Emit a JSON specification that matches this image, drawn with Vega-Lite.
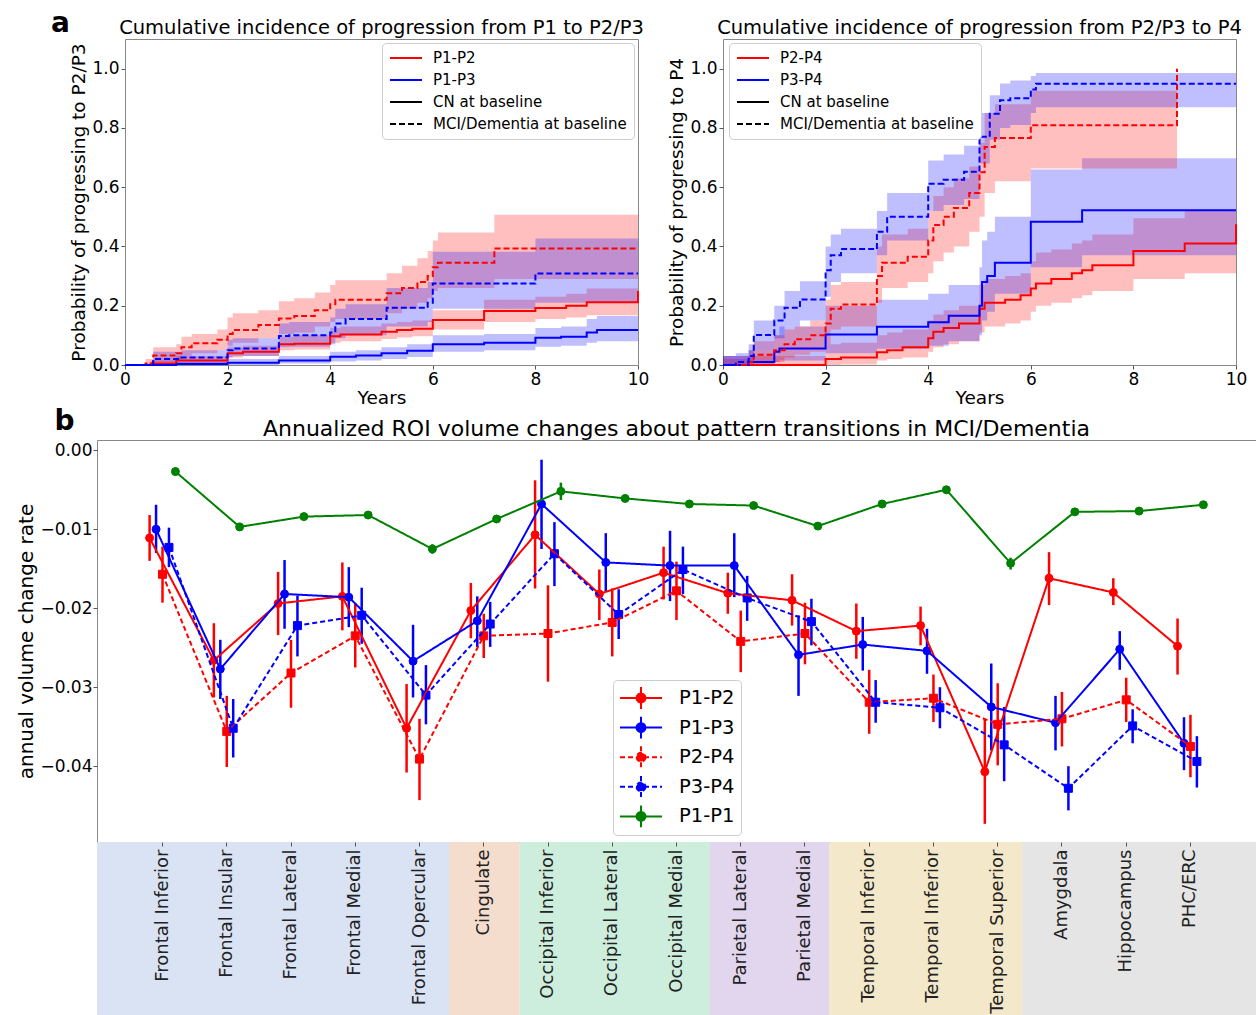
{
  "$schema": "https://vega.github.io/schema/vega-lite/v6.json",
  "padding": {"left": 16, "top": 10, "right": 0, "bottom": 0},
  "config": {
    "font": "DejaVu Sans",
    "view": {"stroke": "#888888"},
    "axis": {"grid": false, "domain": false, "domainColor": "#888888", "tickColor": "#555555", "tickSize": 4, "labelColor": "#000000", "titleColor": "#000000", "titleFontWeight": "normal", "labelFlush": false, "labelOverlap": false},
    "legend": {"labelColor": "#000000"},
    "title": {"fontWeight": "normal", "color": "#000000"}
  },
  "datasets": {
    "tl": [
      {"series": "P1-P2", "base": "CN at baseline", "t": 0, "p": 0, "lo": 0, "hi": 0},
      {"series": "P1-P2", "base": "CN at baseline", "t": 0.5, "p": 0.005, "lo": 0, "hi": 0.015},
      {"series": "P1-P2", "base": "CN at baseline", "t": 1.0, "p": 0.015, "lo": 0.005, "hi": 0.03},
      {"series": "P1-P2", "base": "CN at baseline", "t": 2.0, "p": 0.04, "lo": 0.025, "hi": 0.06},
      {"series": "P1-P2", "base": "CN at baseline", "t": 2.3, "p": 0.045, "lo": 0.03, "hi": 0.065},
      {"series": "P1-P2", "base": "CN at baseline", "t": 3.0, "p": 0.07, "lo": 0.05, "hi": 0.095},
      {"series": "P1-P2", "base": "CN at baseline", "t": 3.3, "p": 0.072, "lo": 0.052, "hi": 0.1},
      {"series": "P1-P2", "base": "CN at baseline", "t": 4.0, "p": 0.097, "lo": 0.075, "hi": 0.125},
      {"series": "P1-P2", "base": "CN at baseline", "t": 4.2, "p": 0.103, "lo": 0.08, "hi": 0.13},
      {"series": "P1-P2", "base": "CN at baseline", "t": 5.0, "p": 0.112, "lo": 0.088, "hi": 0.14},
      {"series": "P1-P2", "base": "CN at baseline", "t": 5.3, "p": 0.118, "lo": 0.093, "hi": 0.145},
      {"series": "P1-P2", "base": "CN at baseline", "t": 5.6, "p": 0.122, "lo": 0.097, "hi": 0.15},
      {"series": "P1-P2", "base": "CN at baseline", "t": 6.0, "p": 0.152, "lo": 0.12, "hi": 0.185},
      {"series": "P1-P2", "base": "CN at baseline", "t": 7.0, "p": 0.182, "lo": 0.145, "hi": 0.22},
      {"series": "P1-P2", "base": "CN at baseline", "t": 8.0, "p": 0.192, "lo": 0.155, "hi": 0.23},
      {"series": "P1-P2", "base": "CN at baseline", "t": 8.6, "p": 0.2, "lo": 0.16, "hi": 0.24},
      {"series": "P1-P2", "base": "CN at baseline", "t": 9.0, "p": 0.212, "lo": 0.168, "hi": 0.258},
      {"series": "P1-P2", "base": "CN at baseline", "t": 10.0, "p": 0.25, "lo": 0.168, "hi": 0.258},
      {"series": "P1-P3", "base": "CN at baseline", "t": 0, "p": 0, "lo": 0, "hi": 0},
      {"series": "P1-P3", "base": "CN at baseline", "t": 1.0, "p": 0.003, "lo": 0, "hi": 0.01},
      {"series": "P1-P3", "base": "CN at baseline", "t": 2.0, "p": 0.008, "lo": 0, "hi": 0.02},
      {"series": "P1-P3", "base": "CN at baseline", "t": 3.0, "p": 0.015, "lo": 0.005, "hi": 0.03},
      {"series": "P1-P3", "base": "CN at baseline", "t": 4.0, "p": 0.028, "lo": 0.012, "hi": 0.045},
      {"series": "P1-P3", "base": "CN at baseline", "t": 4.5, "p": 0.032, "lo": 0.015, "hi": 0.05},
      {"series": "P1-P3", "base": "CN at baseline", "t": 5.0, "p": 0.04, "lo": 0.02, "hi": 0.06},
      {"series": "P1-P3", "base": "CN at baseline", "t": 5.5, "p": 0.048, "lo": 0.027, "hi": 0.07},
      {"series": "P1-P3", "base": "CN at baseline", "t": 6.0, "p": 0.07, "lo": 0.045, "hi": 0.1},
      {"series": "P1-P3", "base": "CN at baseline", "t": 7.0, "p": 0.075, "lo": 0.05, "hi": 0.105},
      {"series": "P1-P3", "base": "CN at baseline", "t": 8.0, "p": 0.092, "lo": 0.062, "hi": 0.125},
      {"series": "P1-P3", "base": "CN at baseline", "t": 8.5, "p": 0.095, "lo": 0.065, "hi": 0.13},
      {"series": "P1-P3", "base": "CN at baseline", "t": 9.0, "p": 0.11, "lo": 0.075, "hi": 0.155},
      {"series": "P1-P3", "base": "CN at baseline", "t": 9.2, "p": 0.118, "lo": 0.08, "hi": 0.165},
      {"series": "P1-P3", "base": "CN at baseline", "t": 10.0, "p": 0.118, "lo": 0.08, "hi": 0.165},
      {"series": "P1-P2", "base": "MCI/Dementia at baseline", "t": 0, "p": 0, "lo": 0, "hi": 0},
      {"series": "P1-P2", "base": "MCI/Dementia at baseline", "t": 0.4, "p": 0.005, "lo": 0, "hi": 0.02},
      {"series": "P1-P2", "base": "MCI/Dementia at baseline", "t": 0.55, "p": 0.032, "lo": 0.01, "hi": 0.06},
      {"series": "P1-P2", "base": "MCI/Dementia at baseline", "t": 1.0, "p": 0.04, "lo": 0.015, "hi": 0.07},
      {"series": "P1-P2", "base": "MCI/Dementia at baseline", "t": 1.1, "p": 0.06, "lo": 0.03, "hi": 0.095},
      {"series": "P1-P2", "base": "MCI/Dementia at baseline", "t": 1.3, "p": 0.073, "lo": 0.04, "hi": 0.105},
      {"series": "P1-P2", "base": "MCI/Dementia at baseline", "t": 1.8, "p": 0.085, "lo": 0.05, "hi": 0.12},
      {"series": "P1-P2", "base": "MCI/Dementia at baseline", "t": 2.0, "p": 0.105, "lo": 0.065, "hi": 0.16},
      {"series": "P1-P2", "base": "MCI/Dementia at baseline", "t": 2.1, "p": 0.118, "lo": 0.075, "hi": 0.175},
      {"series": "P1-P2", "base": "MCI/Dementia at baseline", "t": 2.6, "p": 0.135, "lo": 0.09, "hi": 0.185},
      {"series": "P1-P2", "base": "MCI/Dementia at baseline", "t": 3.0, "p": 0.157, "lo": 0.105, "hi": 0.215},
      {"series": "P1-P2", "base": "MCI/Dementia at baseline", "t": 3.3, "p": 0.165, "lo": 0.11, "hi": 0.225},
      {"series": "P1-P2", "base": "MCI/Dementia at baseline", "t": 3.7, "p": 0.185, "lo": 0.13, "hi": 0.245},
      {"series": "P1-P2", "base": "MCI/Dementia at baseline", "t": 4.0, "p": 0.205, "lo": 0.145, "hi": 0.27},
      {"series": "P1-P2", "base": "MCI/Dementia at baseline", "t": 4.1, "p": 0.22, "lo": 0.155, "hi": 0.286},
      {"series": "P1-P2", "base": "MCI/Dementia at baseline", "t": 5.1, "p": 0.242, "lo": 0.175, "hi": 0.31},
      {"series": "P1-P2", "base": "MCI/Dementia at baseline", "t": 5.4, "p": 0.26, "lo": 0.19, "hi": 0.335},
      {"series": "P1-P2", "base": "MCI/Dementia at baseline", "t": 5.7, "p": 0.28, "lo": 0.21, "hi": 0.36},
      {"series": "P1-P2", "base": "MCI/Dementia at baseline", "t": 5.9, "p": 0.3, "lo": 0.225, "hi": 0.385},
      {"series": "P1-P2", "base": "MCI/Dementia at baseline", "t": 6.0, "p": 0.33, "lo": 0.25, "hi": 0.42},
      {"series": "P1-P2", "base": "MCI/Dementia at baseline", "t": 6.1, "p": 0.345, "lo": 0.26, "hi": 0.447},
      {"series": "P1-P2", "base": "MCI/Dementia at baseline", "t": 7.2, "p": 0.393, "lo": 0.29, "hi": 0.507},
      {"series": "P1-P2", "base": "MCI/Dementia at baseline", "t": 10.0, "p": 0.393, "lo": 0.29, "hi": 0.507},
      {"series": "P1-P3", "base": "MCI/Dementia at baseline", "t": 0, "p": 0, "lo": 0, "hi": 0},
      {"series": "P1-P3", "base": "MCI/Dementia at baseline", "t": 0.55, "p": 0.02, "lo": 0.005, "hi": 0.045},
      {"series": "P1-P3", "base": "MCI/Dementia at baseline", "t": 1.1, "p": 0.025, "lo": 0.008, "hi": 0.05},
      {"series": "P1-P3", "base": "MCI/Dementia at baseline", "t": 2.0, "p": 0.05, "lo": 0.025, "hi": 0.085},
      {"series": "P1-P3", "base": "MCI/Dementia at baseline", "t": 2.1, "p": 0.056, "lo": 0.03, "hi": 0.09},
      {"series": "P1-P3", "base": "MCI/Dementia at baseline", "t": 3.0, "p": 0.098, "lo": 0.06, "hi": 0.14},
      {"series": "P1-P3", "base": "MCI/Dementia at baseline", "t": 3.2, "p": 0.1, "lo": 0.062, "hi": 0.145},
      {"series": "P1-P3", "base": "MCI/Dementia at baseline", "t": 4.0, "p": 0.11, "lo": 0.07, "hi": 0.16},
      {"series": "P1-P3", "base": "MCI/Dementia at baseline", "t": 4.1, "p": 0.14, "lo": 0.09, "hi": 0.19},
      {"series": "P1-P3", "base": "MCI/Dementia at baseline", "t": 4.3, "p": 0.155, "lo": 0.1, "hi": 0.205},
      {"series": "P1-P3", "base": "MCI/Dementia at baseline", "t": 5.1, "p": 0.193, "lo": 0.13, "hi": 0.26},
      {"series": "P1-P3", "base": "MCI/Dementia at baseline", "t": 5.9, "p": 0.21, "lo": 0.145, "hi": 0.28},
      {"series": "P1-P3", "base": "MCI/Dementia at baseline", "t": 6.0, "p": 0.275, "lo": 0.19, "hi": 0.382},
      {"series": "P1-P3", "base": "MCI/Dementia at baseline", "t": 8.0, "p": 0.309, "lo": 0.21, "hi": 0.427},
      {"series": "P1-P3", "base": "MCI/Dementia at baseline", "t": 10.0, "p": 0.309, "lo": 0.21, "hi": 0.427}
    ],
    "tr": [
      {"series": "P2-P4", "base": "CN at baseline", "t": 0, "p": 0, "lo": 0, "hi": 0.03},
      {"series": "P2-P4", "base": "CN at baseline", "t": 2.0, "p": 0.02, "lo": 0, "hi": 0.07},
      {"series": "P2-P4", "base": "CN at baseline", "t": 2.3, "p": 0.025, "lo": 0.002, "hi": 0.075},
      {"series": "P2-P4", "base": "CN at baseline", "t": 3.0, "p": 0.043, "lo": 0.015, "hi": 0.1},
      {"series": "P2-P4", "base": "CN at baseline", "t": 3.2, "p": 0.05, "lo": 0.02, "hi": 0.11},
      {"series": "P2-P4", "base": "CN at baseline", "t": 3.5, "p": 0.06, "lo": 0.025, "hi": 0.12},
      {"series": "P2-P4", "base": "CN at baseline", "t": 4.0, "p": 0.09, "lo": 0.045, "hi": 0.15},
      {"series": "P2-P4", "base": "CN at baseline", "t": 4.1, "p": 0.112, "lo": 0.06, "hi": 0.17},
      {"series": "P2-P4", "base": "CN at baseline", "t": 4.3, "p": 0.125, "lo": 0.07, "hi": 0.185},
      {"series": "P2-P4", "base": "CN at baseline", "t": 4.6, "p": 0.14, "lo": 0.08, "hi": 0.2},
      {"series": "P2-P4", "base": "CN at baseline", "t": 5.0, "p": 0.19, "lo": 0.11, "hi": 0.27},
      {"series": "P2-P4", "base": "CN at baseline", "t": 5.1, "p": 0.21, "lo": 0.13, "hi": 0.29},
      {"series": "P2-P4", "base": "CN at baseline", "t": 5.5, "p": 0.22, "lo": 0.14, "hi": 0.3},
      {"series": "P2-P4", "base": "CN at baseline", "t": 5.8, "p": 0.235, "lo": 0.15, "hi": 0.31},
      {"series": "P2-P4", "base": "CN at baseline", "t": 6.0, "p": 0.258, "lo": 0.18, "hi": 0.35},
      {"series": "P2-P4", "base": "CN at baseline", "t": 6.1, "p": 0.275, "lo": 0.2, "hi": 0.38},
      {"series": "P2-P4", "base": "CN at baseline", "t": 6.4, "p": 0.29, "lo": 0.21, "hi": 0.39},
      {"series": "P2-P4", "base": "CN at baseline", "t": 6.8, "p": 0.31, "lo": 0.225, "hi": 0.41},
      {"series": "P2-P4", "base": "CN at baseline", "t": 7.0, "p": 0.32, "lo": 0.235, "hi": 0.42},
      {"series": "P2-P4", "base": "CN at baseline", "t": 7.2, "p": 0.337, "lo": 0.25, "hi": 0.44},
      {"series": "P2-P4", "base": "CN at baseline", "t": 8.0, "p": 0.385, "lo": 0.29, "hi": 0.495},
      {"series": "P2-P4", "base": "CN at baseline", "t": 9.0, "p": 0.41, "lo": 0.31, "hi": 0.52},
      {"series": "P2-P4", "base": "CN at baseline", "t": 10.0, "p": 0.475, "lo": 0.31, "hi": 0.52},
      {"series": "P3-P4", "base": "CN at baseline", "t": 0, "p": 0, "lo": 0, "hi": 0.03},
      {"series": "P3-P4", "base": "CN at baseline", "t": 0.5, "p": 0.01, "lo": 0, "hi": 0.05},
      {"series": "P3-P4", "base": "CN at baseline", "t": 1.0, "p": 0.045, "lo": 0.01, "hi": 0.1},
      {"series": "P3-P4", "base": "CN at baseline", "t": 1.1, "p": 0.056, "lo": 0.015, "hi": 0.13},
      {"series": "P3-P4", "base": "CN at baseline", "t": 2.0, "p": 0.103, "lo": 0.04, "hi": 0.2},
      {"series": "P3-P4", "base": "CN at baseline", "t": 3.0, "p": 0.129, "lo": 0.055, "hi": 0.22},
      {"series": "P3-P4", "base": "CN at baseline", "t": 4.0, "p": 0.144, "lo": 0.065, "hi": 0.24},
      {"series": "P3-P4", "base": "CN at baseline", "t": 4.4, "p": 0.166, "lo": 0.08, "hi": 0.27},
      {"series": "P3-P4", "base": "CN at baseline", "t": 5.0, "p": 0.2, "lo": 0.1, "hi": 0.33},
      {"series": "P3-P4", "base": "CN at baseline", "t": 5.05, "p": 0.28, "lo": 0.15, "hi": 0.42},
      {"series": "P3-P4", "base": "CN at baseline", "t": 5.15, "p": 0.3, "lo": 0.18, "hi": 0.45},
      {"series": "P3-P4", "base": "CN at baseline", "t": 5.3, "p": 0.345, "lo": 0.24, "hi": 0.5},
      {"series": "P3-P4", "base": "CN at baseline", "t": 6.0, "p": 0.483, "lo": 0.33, "hi": 0.66},
      {"series": "P3-P4", "base": "CN at baseline", "t": 7.0, "p": 0.522, "lo": 0.37, "hi": 0.698},
      {"series": "P3-P4", "base": "CN at baseline", "t": 10.0, "p": 0.522, "lo": 0.37, "hi": 0.698},
      {"series": "P2-P4", "base": "MCI/Dementia at baseline", "t": 0, "p": 0, "lo": 0, "hi": 0.02},
      {"series": "P2-P4", "base": "MCI/Dementia at baseline", "t": 0.5, "p": 0.01, "lo": 0, "hi": 0.05},
      {"series": "P2-P4", "base": "MCI/Dementia at baseline", "t": 0.6, "p": 0.035, "lo": 0.005, "hi": 0.08},
      {"series": "P2-P4", "base": "MCI/Dementia at baseline", "t": 1.0, "p": 0.05, "lo": 0.01, "hi": 0.1},
      {"series": "P2-P4", "base": "MCI/Dementia at baseline", "t": 1.2, "p": 0.07, "lo": 0.025, "hi": 0.12},
      {"series": "P2-P4", "base": "MCI/Dementia at baseline", "t": 1.4, "p": 0.087, "lo": 0.035, "hi": 0.13},
      {"series": "P2-P4", "base": "MCI/Dementia at baseline", "t": 1.7, "p": 0.1, "lo": 0.045, "hi": 0.15},
      {"series": "P2-P4", "base": "MCI/Dementia at baseline", "t": 2.0, "p": 0.14, "lo": 0.07, "hi": 0.22},
      {"series": "P2-P4", "base": "MCI/Dementia at baseline", "t": 2.1, "p": 0.19, "lo": 0.12, "hi": 0.27},
      {"series": "P2-P4", "base": "MCI/Dementia at baseline", "t": 2.3, "p": 0.204, "lo": 0.13, "hi": 0.28},
      {"series": "P2-P4", "base": "MCI/Dementia at baseline", "t": 3.0, "p": 0.3, "lo": 0.21, "hi": 0.4},
      {"series": "P2-P4", "base": "MCI/Dementia at baseline", "t": 3.1, "p": 0.345, "lo": 0.26, "hi": 0.44},
      {"series": "P2-P4", "base": "MCI/Dementia at baseline", "t": 3.6, "p": 0.365, "lo": 0.28, "hi": 0.46},
      {"series": "P2-P4", "base": "MCI/Dementia at baseline", "t": 4.0, "p": 0.42, "lo": 0.31, "hi": 0.52},
      {"series": "P2-P4", "base": "MCI/Dementia at baseline", "t": 4.1, "p": 0.472, "lo": 0.35, "hi": 0.57},
      {"series": "P2-P4", "base": "MCI/Dementia at baseline", "t": 4.3, "p": 0.5, "lo": 0.38, "hi": 0.6},
      {"series": "P2-P4", "base": "MCI/Dementia at baseline", "t": 4.5, "p": 0.53, "lo": 0.4, "hi": 0.63},
      {"series": "P2-P4", "base": "MCI/Dementia at baseline", "t": 4.8, "p": 0.58, "lo": 0.45, "hi": 0.67},
      {"series": "P2-P4", "base": "MCI/Dementia at baseline", "t": 5.0, "p": 0.65, "lo": 0.5, "hi": 0.75},
      {"series": "P2-P4", "base": "MCI/Dementia at baseline", "t": 5.1, "p": 0.736, "lo": 0.58, "hi": 0.85},
      {"series": "P2-P4", "base": "MCI/Dementia at baseline", "t": 5.3, "p": 0.766, "lo": 0.62, "hi": 0.88},
      {"series": "P2-P4", "base": "MCI/Dementia at baseline", "t": 6.0, "p": 0.809, "lo": 0.663, "hi": 0.925},
      {"series": "P2-P4", "base": "MCI/Dementia at baseline", "t": 8.85, "p": 1.0, "lo": 0.663, "hi": 0.925},
      {"series": "P3-P4", "base": "MCI/Dementia at baseline", "t": 0, "p": 0, "lo": 0, "hi": 0.03},
      {"series": "P3-P4", "base": "MCI/Dementia at baseline", "t": 0.25, "p": 0.01, "lo": 0, "hi": 0.04},
      {"series": "P3-P4", "base": "MCI/Dementia at baseline", "t": 0.5, "p": 0.03, "lo": 0.005, "hi": 0.07},
      {"series": "P3-P4", "base": "MCI/Dementia at baseline", "t": 0.6, "p": 0.101, "lo": 0.05, "hi": 0.15},
      {"series": "P3-P4", "base": "MCI/Dementia at baseline", "t": 1.0, "p": 0.15, "lo": 0.09, "hi": 0.2},
      {"series": "P3-P4", "base": "MCI/Dementia at baseline", "t": 1.2, "p": 0.193, "lo": 0.13, "hi": 0.25},
      {"series": "P3-P4", "base": "MCI/Dementia at baseline", "t": 1.5, "p": 0.221, "lo": 0.15, "hi": 0.283},
      {"series": "P3-P4", "base": "MCI/Dementia at baseline", "t": 2.0, "p": 0.32, "lo": 0.23, "hi": 0.4},
      {"series": "P3-P4", "base": "MCI/Dementia at baseline", "t": 2.1, "p": 0.37, "lo": 0.28, "hi": 0.44},
      {"series": "P3-P4", "base": "MCI/Dementia at baseline", "t": 2.3, "p": 0.391, "lo": 0.31, "hi": 0.46},
      {"series": "P3-P4", "base": "MCI/Dementia at baseline", "t": 3.0, "p": 0.45, "lo": 0.37, "hi": 0.52},
      {"series": "P3-P4", "base": "MCI/Dementia at baseline", "t": 3.2, "p": 0.5, "lo": 0.42, "hi": 0.58},
      {"series": "P3-P4", "base": "MCI/Dementia at baseline", "t": 4.0, "p": 0.612, "lo": 0.52, "hi": 0.69},
      {"series": "P3-P4", "base": "MCI/Dementia at baseline", "t": 4.3, "p": 0.625, "lo": 0.54, "hi": 0.71},
      {"series": "P3-P4", "base": "MCI/Dementia at baseline", "t": 4.7, "p": 0.652, "lo": 0.56, "hi": 0.74},
      {"series": "P3-P4", "base": "MCI/Dementia at baseline", "t": 5.0, "p": 0.77, "lo": 0.68, "hi": 0.85},
      {"series": "P3-P4", "base": "MCI/Dementia at baseline", "t": 5.2, "p": 0.848, "lo": 0.76, "hi": 0.91},
      {"series": "P3-P4", "base": "MCI/Dementia at baseline", "t": 5.4, "p": 0.893, "lo": 0.8, "hi": 0.95},
      {"series": "P3-P4", "base": "MCI/Dementia at baseline", "t": 5.6, "p": 0.9, "lo": 0.81, "hi": 0.96},
      {"series": "P3-P4", "base": "MCI/Dementia at baseline", "t": 6.0, "p": 0.93, "lo": 0.85, "hi": 0.975},
      {"series": "P3-P4", "base": "MCI/Dementia at baseline", "t": 6.1, "p": 0.949, "lo": 0.87, "hi": 0.985},
      {"series": "P3-P4", "base": "MCI/Dementia at baseline", "t": 10.0, "p": 0.949, "lo": 0.87, "hi": 0.985}
    ],
    "roi": [
      {"i": 0, "s": "P1-P2", "v": -0.0111, "lo": -0.0082, "hi": -0.0140},
      {"i": 0, "s": "P1-P3", "v": -0.0100, "lo": -0.0069, "hi": -0.0130},
      {"i": 0, "s": "P2-P4", "v": -0.0157, "lo": -0.0122, "hi": -0.0193},
      {"i": 0, "s": "P3-P4", "v": -0.0123, "lo": -0.0098, "hi": -0.0148},
      {"i": 0, "s": "P1-P1", "v": -0.0027, "lo": -0.0022, "hi": -0.0032},
      {"i": 1, "s": "P1-P2", "v": -0.0266, "lo": -0.0219, "hi": -0.0313},
      {"i": 1, "s": "P1-P3", "v": -0.0277, "lo": -0.0240, "hi": -0.0315},
      {"i": 1, "s": "P2-P4", "v": -0.0356, "lo": -0.0311, "hi": -0.0401},
      {"i": 1, "s": "P3-P4", "v": -0.0352, "lo": -0.0315, "hi": -0.0389},
      {"i": 1, "s": "P1-P1", "v": -0.0097, "lo": -0.0092, "hi": -0.0102},
      {"i": 2, "s": "P1-P2", "v": -0.0194, "lo": -0.0154, "hi": -0.0234},
      {"i": 2, "s": "P1-P3", "v": -0.0182, "lo": -0.0139, "hi": -0.0226},
      {"i": 2, "s": "P2-P4", "v": -0.0282, "lo": -0.0240, "hi": -0.0326},
      {"i": 2, "s": "P3-P4", "v": -0.0222, "lo": -0.0184, "hi": -0.0261},
      {"i": 2, "s": "P1-P1", "v": -0.0084, "lo": -0.0080, "hi": -0.0088},
      {"i": 3, "s": "P1-P2", "v": -0.0185, "lo": -0.0142, "hi": -0.0228},
      {"i": 3, "s": "P1-P3", "v": -0.0186, "lo": -0.0148, "hi": -0.0224},
      {"i": 3, "s": "P2-P4", "v": -0.0235, "lo": -0.0194, "hi": -0.0275},
      {"i": 3, "s": "P3-P4", "v": -0.0209, "lo": -0.0174, "hi": -0.0245},
      {"i": 3, "s": "P1-P1", "v": -0.0082, "lo": -0.0078, "hi": -0.0086},
      {"i": 4, "s": "P1-P2", "v": -0.0352, "lo": -0.0296, "hi": -0.0408},
      {"i": 4, "s": "P1-P3", "v": -0.0267, "lo": -0.0221, "hi": -0.0313},
      {"i": 4, "s": "P2-P4", "v": -0.0391, "lo": -0.0340, "hi": -0.0443},
      {"i": 4, "s": "P3-P4", "v": -0.0310, "lo": -0.0272, "hi": -0.0347},
      {"i": 4, "s": "P1-P1", "v": -0.0125, "lo": -0.0119, "hi": -0.0131},
      {"i": 5, "s": "P1-P2", "v": -0.0203, "lo": -0.0168, "hi": -0.0238},
      {"i": 5, "s": "P1-P3", "v": -0.0216, "lo": -0.0185, "hi": -0.0249},
      {"i": 5, "s": "P2-P4", "v": -0.0235, "lo": -0.0207, "hi": -0.0263},
      {"i": 5, "s": "P3-P4", "v": -0.0220, "lo": -0.0192, "hi": -0.0249},
      {"i": 5, "s": "P1-P1", "v": -0.0087, "lo": -0.0083, "hi": -0.0091},
      {"i": 6, "s": "P1-P2", "v": -0.0107, "lo": -0.0038, "hi": -0.0175},
      {"i": 6, "s": "P1-P3", "v": -0.0068, "lo": -0.0012, "hi": -0.0125},
      {"i": 6, "s": "P2-P4", "v": -0.0232, "lo": -0.0171, "hi": -0.0293},
      {"i": 6, "s": "P3-P4", "v": -0.0131, "lo": -0.0091, "hi": -0.0172},
      {"i": 6, "s": "P1-P1", "v": -0.0052, "lo": -0.0041, "hi": -0.0063},
      {"i": 7, "s": "P1-P2", "v": -0.0182, "lo": -0.0151, "hi": -0.0215},
      {"i": 7, "s": "P1-P3", "v": -0.0142, "lo": -0.0105, "hi": -0.0179},
      {"i": 7, "s": "P2-P4", "v": -0.0218, "lo": -0.0175, "hi": -0.0261},
      {"i": 7, "s": "P3-P4", "v": -0.0208, "lo": -0.0176, "hi": -0.0239},
      {"i": 7, "s": "P1-P1", "v": -0.0061, "lo": -0.0057, "hi": -0.0065},
      {"i": 8, "s": "P1-P2", "v": -0.0155, "lo": -0.0122, "hi": -0.0189},
      {"i": 8, "s": "P1-P3", "v": -0.0146, "lo": -0.0102, "hi": -0.0191},
      {"i": 8, "s": "P2-P4", "v": -0.0178, "lo": -0.0141, "hi": -0.0215},
      {"i": 8, "s": "P3-P4", "v": -0.0151, "lo": -0.0122, "hi": -0.0182},
      {"i": 8, "s": "P1-P1", "v": -0.0068, "lo": -0.0064, "hi": -0.0072},
      {"i": 9, "s": "P1-P2", "v": -0.0181, "lo": -0.0155, "hi": -0.0207},
      {"i": 9, "s": "P1-P3", "v": -0.0146, "lo": -0.0105, "hi": -0.0186},
      {"i": 9, "s": "P2-P4", "v": -0.0242, "lo": -0.0203, "hi": -0.0281},
      {"i": 9, "s": "P3-P4", "v": -0.0187, "lo": -0.0159, "hi": -0.0216},
      {"i": 9, "s": "P1-P1", "v": -0.0070, "lo": -0.0066, "hi": -0.0074},
      {"i": 10, "s": "P1-P2", "v": -0.0190, "lo": -0.0157, "hi": -0.0222},
      {"i": 10, "s": "P1-P3", "v": -0.0259, "lo": -0.0209, "hi": -0.0311},
      {"i": 10, "s": "P2-P4", "v": -0.0232, "lo": -0.0193, "hi": -0.0271},
      {"i": 10, "s": "P3-P4", "v": -0.0217, "lo": -0.0188, "hi": -0.0247},
      {"i": 10, "s": "P1-P1", "v": -0.0096, "lo": -0.0091, "hi": -0.0101},
      {"i": 11, "s": "P1-P2", "v": -0.0229, "lo": -0.0194, "hi": -0.0264},
      {"i": 11, "s": "P1-P3", "v": -0.0246, "lo": -0.0211, "hi": -0.0279},
      {"i": 11, "s": "P2-P4", "v": -0.0319, "lo": -0.0278, "hi": -0.0359},
      {"i": 11, "s": "P3-P4", "v": -0.0319, "lo": -0.0291, "hi": -0.0345},
      {"i": 11, "s": "P1-P1", "v": -0.0068, "lo": -0.0064, "hi": -0.0072},
      {"i": 12, "s": "P1-P2", "v": -0.0222, "lo": -0.0198, "hi": -0.0247},
      {"i": 12, "s": "P1-P3", "v": -0.0254, "lo": -0.0226, "hi": -0.0283},
      {"i": 12, "s": "P2-P4", "v": -0.0314, "lo": -0.0284, "hi": -0.0344},
      {"i": 12, "s": "P3-P4", "v": -0.0326, "lo": -0.0300, "hi": -0.0352},
      {"i": 12, "s": "P1-P1", "v": -0.0050, "lo": -0.0047, "hi": -0.0053},
      {"i": 13, "s": "P1-P2", "v": -0.0407, "lo": -0.0340, "hi": -0.0473},
      {"i": 13, "s": "P1-P3", "v": -0.0325, "lo": -0.0270, "hi": -0.0380},
      {"i": 13, "s": "P2-P4", "v": -0.0347, "lo": -0.0295, "hi": -0.0399},
      {"i": 13, "s": "P3-P4", "v": -0.0373, "lo": -0.0325, "hi": -0.0419},
      {"i": 13, "s": "P1-P1", "v": -0.0143, "lo": -0.0136, "hi": -0.0151},
      {"i": 14, "s": "P1-P2", "v": -0.0162, "lo": -0.0129, "hi": -0.0196},
      {"i": 14, "s": "P1-P3", "v": -0.0345, "lo": -0.0311, "hi": -0.0380},
      {"i": 14, "s": "P2-P4", "v": -0.0340, "lo": -0.0306, "hi": -0.0375},
      {"i": 14, "s": "P3-P4", "v": -0.0428, "lo": -0.0400, "hi": -0.0456},
      {"i": 14, "s": "P1-P1", "v": -0.0078, "lo": -0.0074, "hi": -0.0082},
      {"i": 15, "s": "P1-P2", "v": -0.0180, "lo": -0.0162, "hi": -0.0196},
      {"i": 15, "s": "P1-P3", "v": -0.0252, "lo": -0.0229, "hi": -0.0278},
      {"i": 15, "s": "P2-P4", "v": -0.0316, "lo": -0.0288, "hi": -0.0344},
      {"i": 15, "s": "P3-P4", "v": -0.0349, "lo": -0.0328, "hi": -0.0371},
      {"i": 15, "s": "P1-P1", "v": -0.0077, "lo": -0.0074, "hi": -0.0080},
      {"i": 16, "s": "P1-P2", "v": -0.0248, "lo": -0.0213, "hi": -0.0284},
      {"i": 16, "s": "P1-P3", "v": -0.0371, "lo": -0.0338, "hi": -0.0405},
      {"i": 16, "s": "P2-P4", "v": -0.0375, "lo": -0.0335, "hi": -0.0414},
      {"i": 16, "s": "P3-P4", "v": -0.0394, "lo": -0.0362, "hi": -0.0427},
      {"i": 16, "s": "P1-P1", "v": -0.0069, "lo": -0.0065, "hi": -0.0073}
    ],
    "groups": [
      {"group": "Frontal", "x0": -1.02, "x1": 4.46},
      {"group": "Cingulate", "x0": 4.46, "x1": 5.56},
      {"group": "Occipital", "x0": 5.56, "x1": 8.52},
      {"group": "Parietal", "x0": 8.52, "x1": 10.38},
      {"group": "Temporal", "x0": 10.38, "x1": 13.38},
      {"group": "Other", "x0": 13.38, "x1": 17.02}
    ]
  },
  "concat": [
    {
      "title": {"text": "a", "anchor": "start", "frame": "bounds", "fontSize": 28, "fontWeight": "bold", "baseline": "alphabetic", "offset": -43, "dx": -19},
      "hconcat": [
        {
          "width": 541, "height": 326,
          "view": {"stroke": null},
          "title": {"text": "Cumulative incidence of progression from P1 to P2/P3", "fontSize": 19.5, "offset": 1, "frame": "group", "dx": 14},
          "data": {"name": "tl"},
          "layer": [
            {
              "mark": {"type": "area", "interpolate": "step-after", "opacity": 0.25},
              "encoding": {
                "x": {"field": "t", "type": "quantitative", "scale": {"domain": [0, 10], "range": [28, 541], "nice": false}, "axis": {"values": [0, 2, 4, 6, 8, 10], "format": "d", "title": "Years", "labelFontSize": 17, "titleFontSize": 18.5, "labelPadding": 2, "titlePadding": 1, "domain": true}},
                "y": {"field": "lo", "type": "quantitative", "scale": {"domain": [0, 1.1], "nice": false}, "axis": {"values": [0, 0.2, 0.4, 0.6, 0.8, 1.0], "format": ".1f", "title": "Probability of progressing to P2/P3", "labelFontSize": 17, "titleFontSize": 18.5, "labelPadding": 2, "titlePadding": 3, "offset": -28, "domain": true}},
                "y2": {"field": "hi"},
                "fill": {"field": "series", "type": "nominal", "scale": {"domain": ["P1-P3", "P1-P2"], "range": ["#0000ff", "#ff0000"]}, "legend": null},
                "detail": {"field": "base"}
              }
            },
            {
              "mark": {"type": "line", "interpolate": "step-after", "strokeWidth": 2},
              "encoding": {
                "x": {"field": "t", "type": "quantitative", "axis": {"orient": "top", "labels": false, "ticks": false, "title": null, "domain": true}},
                "y": {"field": "p", "type": "quantitative", "axis": {"orient": "right", "labels": false, "ticks": false, "title": null, "domain": true}},
                "color": {"field": "series", "type": "nominal", "scale": {"domain": ["P1-P2", "P1-P3", "CN at baseline", "MCI/Dementia at baseline"], "range": ["#ff0000", "#0000ff", "#000000", "#000000"]},
                  "legend": {"title": null, "orient": "none", "legendX": 285, "legendY": 4, "symbolType": "stroke", "symbolSize": 1024, "symbolStrokeWidth": 2, "symbolOpacity": 1, "clipHeight": 16, "rowPadding": 6, "labelFontSize": 15, "labelOffset": 10, "labelLimit": 400, "padding": 7, "fillColor": "#ffffff", "strokeColor": "#cccccc", "cornerRadius": 4}},
                "strokeDash": {"field": "base", "type": "nominal", "scale": {"domain": ["P1-P2", "P1-P3", "CN at baseline", "MCI/Dementia at baseline"], "range": [[1, 0], [1, 0], [1, 0], [6, 3]]},
                  "legend": {"title": null, "orient": "none", "legendX": 285, "legendY": 4, "symbolType": "stroke", "symbolSize": 1024, "symbolStrokeWidth": 2, "symbolOpacity": 1, "clipHeight": 16, "rowPadding": 6, "labelFontSize": 15, "labelOffset": 10, "labelLimit": 400, "padding": 7, "fillColor": "#ffffff", "strokeColor": "#cccccc", "cornerRadius": 4}}
              }
            }
          ],
          "resolve": {"axis": {"x": "independent", "y": "independent"}}
        },
        {
          "width": 513, "height": 326,
          "title": {"text": "Cumulative incidence of progression from P2/P3 to P4", "fontSize": 19.5, "offset": 1, "frame": "group"},
          "data": {"name": "tr"},
          "layer": [
            {
              "mark": {"type": "area", "interpolate": "step-after", "opacity": 0.25},
              "encoding": {
                "x": {"field": "t", "type": "quantitative", "scale": {"domain": [0, 10], "nice": false}, "axis": {"values": [0, 2, 4, 6, 8, 10], "format": "d", "title": "Years", "labelFontSize": 17, "titleFontSize": 18.5, "labelPadding": 2, "titlePadding": 1}},
                "y": {"field": "lo", "type": "quantitative", "scale": {"domain": [0, 1.1], "nice": false}, "axis": {"values": [0, 0.2, 0.4, 0.6, 0.8, 1.0], "format": ".1f", "title": "Probability of progressing to P4", "labelFontSize": 17, "titleFontSize": 18.5, "labelPadding": 2, "titlePadding": 3}},
                "y2": {"field": "hi"},
                "fill": {"field": "series", "type": "nominal", "scale": {"domain": ["P3-P4", "P2-P4"], "range": ["#0000ff", "#ff0000"]}, "legend": null},
                "detail": {"field": "base"}
              }
            },
            {
              "mark": {"type": "line", "interpolate": "step-after", "strokeWidth": 2},
              "encoding": {
                "x": {"field": "t", "type": "quantitative"},
                "y": {"field": "p", "type": "quantitative"},
                "color": {"field": "series", "type": "nominal", "scale": {"domain": ["P2-P4", "P3-P4", "CN at baseline", "MCI/Dementia at baseline"], "range": ["#ff0000", "#0000ff", "#000000", "#000000"]},
                  "legend": {"title": null, "orient": "none", "legendX": 6, "legendY": 4, "symbolType": "stroke", "symbolSize": 1024, "symbolStrokeWidth": 2, "symbolOpacity": 1, "clipHeight": 16, "rowPadding": 6, "labelFontSize": 15, "labelOffset": 10, "labelLimit": 400, "padding": 7, "fillColor": "#ffffff", "strokeColor": "#cccccc", "cornerRadius": 4}},
                "strokeDash": {"field": "base", "type": "nominal", "scale": {"domain": ["P2-P4", "P3-P4", "CN at baseline", "MCI/Dementia at baseline"], "range": [[1, 0], [1, 0], [1, 0], [6, 3]]},
                  "legend": {"title": null, "orient": "none", "legendX": 6, "legendY": 4, "symbolType": "stroke", "symbolSize": 1024, "symbolStrokeWidth": 2, "symbolOpacity": 1, "clipHeight": 16, "rowPadding": 6, "labelFontSize": 15, "labelOffset": 10, "labelLimit": 400, "padding": 7, "fillColor": "#ffffff", "strokeColor": "#cccccc", "cornerRadius": 4}}
              }
            }
          ]
        }
      ],
      "spacing": 18,
      "resolve": {"scale": {"color": "independent", "strokeDash": "independent", "fill": "independent"}, "legend": {"color": "independent", "strokeDash": "independent"}}
    },
    {
      "title": {"text": "b", "anchor": "start", "frame": "bounds", "fontSize": 28, "fontWeight": "bold", "baseline": "alphabetic", "offset": -40, "dx": 38},
      "vconcat": [
        {
          "width": 1159, "height": 402,
          "title": {"text": "Annualized ROI volume changes about pattern transitions in MCI/Dementia", "fontSize": 22, "offset": -1},
          "layer": [
            {
              "data": {"name": "groups"},
              "mark": {"type": "rect", "clip": false},
              "encoding": {
                "x": {"field": "x0", "type": "quantitative", "scale": {"domain": [-1.02, 17.02], "nice": false, "zero": false}, "axis": null},
                "x2": {"field": "x1"},
                "y": {"datum": -0.0496},
                "y2": {"datum": -0.0716},
                "fill": {"field": "group", "type": "nominal", "scale": {"domain": ["Frontal", "Cingulate", "Occipital", "Parietal", "Temporal", "Other"], "range": ["#dae3f3", "#f5ddce", "#cdeedc", "#e2d6ee", "#f3e8c9", "#e5e5e5"]}, "legend": null}
              }
            },
            {
              "data": {"name": "roi"},
              "layer": [
                {
                  "mark": {"type": "point", "filled": true, "opacity": 1, "size": 64, "strokeWidth": 1},
                  "encoding": {
                    "x": {"field": "i", "type": "ordinal", "scale": {"paddingInner": 0, "paddingOuter": 0.52, "align": 0.5}, "axis": {"title": null, "bandPosition": 0.5, "labelAngle": -90, "labelFontSize": 18, "labelColor": "#222222", "labelPadding": 3, "tickSize": 4, "zindex": 1, "labelExpr": "['Frontal Inferior','Frontal Insular','Frontal Lateral','Frontal Medial','Frontal Opercular','Cingulate','Occipital Inferior','Occipital Lateral','Occipital Medial','Parietal Lateral','Parietal Medial','Temporal Inferior','Temporal Inferior','Temporal Superior','Amygdala','Hippocampus','PHC/ERC'][datum.value]"}},
                    "xOffset": {"field": "s", "type": "nominal", "scale": {"type": "point", "domain": ["P1-P2", "P1-P3", "P2-P4", "P3-P4", "P1-P1"], "range": [19.2, 45.0], "padding": 0}},
                    "y": {"field": "v", "type": "quantitative", "scale": {"domain": [-0.0496, 0.0013], "nice": false, "zero": false}, "axis": {"values": [0, -0.01, -0.02, -0.03, -0.04], "format": ".2f", "title": "annual volume change rate", "labelFontSize": 17, "titleFontSize": 20, "labelPadding": 1, "titlePadding": 3}},
                    "color": {"field": "s", "type": "nominal", "scale": {"domain": ["P1-P2", "P1-P3", "P2-P4", "P3-P4", "P1-P1"], "range": ["#ff0000", "#0000ff", "#ff0000", "#0000ff", "#008000"]},
                      "legend": {"title": null, "orient": "none", "legendX": 516, "legendY": 240, "symbolType": "M-1,0H1M0,-0.52V0.52M0.21,0A0.21,0.21,0,1,1,-0.21,0A0.21,0.21,0,1,1,0.21,0Z", "symbolSize": 1764, "symbolStrokeWidth": 2, "symbolOpacity": 1, "clipHeight": 24, "rowPadding": 5.6, "labelFontSize": 19.5, "labelOffset": 16, "padding": 6, "strokeColor": "#cccccc", "fillColor": "#ffffff", "cornerRadius": 4}},
                    "stroke": {"field": "s", "type": "nominal", "scale": {"domain": ["P1-P2", "P1-P3", "P2-P4", "P3-P4", "P1-P1"], "range": ["#ff0000", "#0000ff", "#ff0000", "#0000ff", "#008000"]},
                      "legend": {"title": null, "orient": "none", "legendX": 516, "legendY": 240, "symbolType": "M-1,0H1M0,-0.52V0.52M0.21,0A0.21,0.21,0,1,1,-0.21,0A0.21,0.21,0,1,1,0.21,0Z", "symbolSize": 1764, "symbolStrokeWidth": 2, "symbolOpacity": 1, "clipHeight": 24, "rowPadding": 5.6, "labelFontSize": 19.5, "labelOffset": 16, "padding": 6, "strokeColor": "#cccccc", "fillColor": "#ffffff", "cornerRadius": 4}},
                    "shape": {"field": "s", "type": "nominal", "scale": {"domain": ["P1-P1", "P3-P4", "P2-P4", "P1-P3", "P1-P2"], "range": ["circle", "square", "square", "circle", "circle"]}, "legend": null}
                  }
                },
                {
                  "mark": {"type": "rule", "strokeWidth": 2.5},
                  "encoding": {
                    "x": {"field": "i", "type": "ordinal"},
                    "xOffset": {"field": "s", "type": "nominal"},
                    "y": {"field": "lo", "type": "quantitative"},
                    "y2": {"field": "hi"},
                    "color": {"field": "s", "type": "nominal"}
                  }
                },
                {
                  "mark": {"type": "line", "strokeWidth": 2},
                  "encoding": {
                    "x": {"field": "i", "type": "ordinal"},
                    "xOffset": {"field": "s", "type": "nominal"},
                    "y": {"field": "v", "type": "quantitative"},
                    "color": {"field": "s", "type": "nominal"},
                    "strokeDash": {"field": "s", "type": "nominal", "scale": {"domain": ["P1-P2", "P1-P3", "P2-P4", "P3-P4", "P1-P1"], "range": [[1, 0], [1, 0], [5, 3], [5, 3], [1, 0]]},
                      "legend": {"title": null, "orient": "none", "legendX": 516, "legendY": 240, "symbolType": "M-1,0H1M0,-0.52V0.52M0.21,0A0.21,0.21,0,1,1,-0.21,0A0.21,0.21,0,1,1,0.21,0Z", "symbolSize": 1764, "symbolStrokeWidth": 2, "symbolOpacity": 1, "clipHeight": 24, "rowPadding": 5.6, "labelFontSize": 19.5, "labelOffset": 16, "padding": 6, "strokeColor": "#cccccc", "fillColor": "#ffffff", "cornerRadius": 4}}
                  }
                }
              ]
            }
          ],
          "resolve": {"scale": {"x": "independent", "fill": "independent"}}
        }
      ]
    }
  ],
  "columns": 1,
  "spacing": 0,
  "resolve": {"scale": {"color": "independent", "strokeDash": "independent", "shape": "independent", "fill": "independent", "stroke": "independent"}, "legend": {"color": "independent", "strokeDash": "independent", "fill": "independent", "stroke": "independent"}}
}
